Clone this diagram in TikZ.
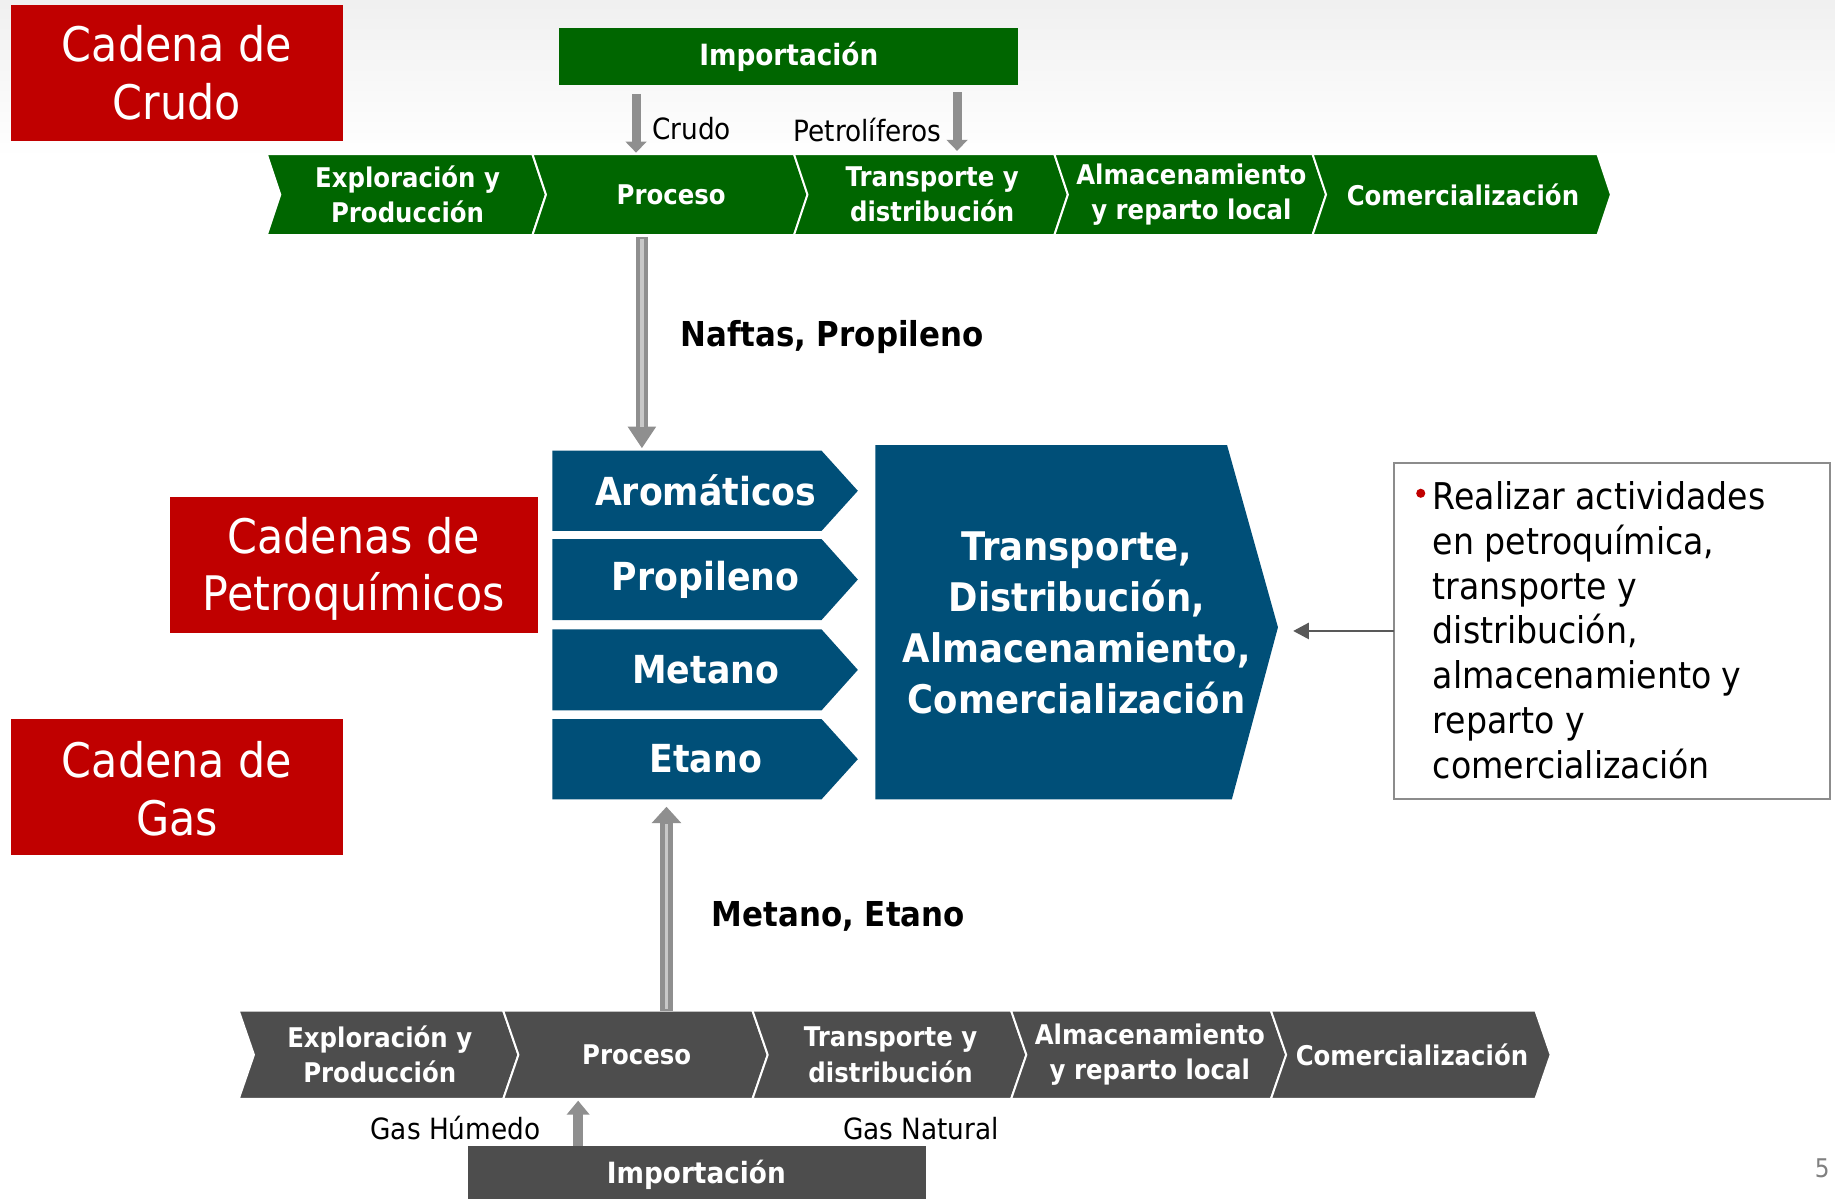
\documentclass[tikz,border=0pt]{standalone}
\usepackage{fontspec}
\setmainfont{DejaVu Sans}[FakeStretch=0.9]
\usetikzlibrary{arrows.meta,fit}
\definecolor{cred}{RGB}{192,0,0}
\definecolor{cgreen}{RGB}{0,102,0}
\definecolor{cblue}{RGB}{0,79,120}
\definecolor{cdgray}{RGB}{77,77,77}
\definecolor{carrow}{RGB}{143,143,143}
\definecolor{cstripe}{RGB}{200,200,200}
\definecolor{cline}{RGB}{89,89,89}
\definecolor{cborder}{RGB}{140,140,140}
\definecolor{cpage}{RGB}{128,128,128}
\newcommand{\fs}[2]{\fontsize{#1}{#2}\selectfont}
\tikzset{
  area/.style={inner sep=0pt, outer sep=0pt},
  redbox/.style={area, fill=cred},
  titletext/.style={text=white, align=center, font=\fs{24.4}{29.6}},
  chevtext/.style={text=white, align=center, font=\fs{13.9}{18}\bfseries, inner sep=0pt},
  imptext/.style={text=white, font=\fs{15}{17}\bfseries, inner sep=0pt},
  flowlabel/.style={font=\fs{15}{17}, inner sep=0pt},
  boldlabel/.style={font=\fs{17.6}{20}\bfseries, inner sep=0pt},
  bluetext/.style={text=white, font=\fs{19.8}{24}\bfseries, inner sep=0pt},
  bigtext/.style={text=white, align=center, font=\fs{20.2}{26.2}\bfseries, inner sep=0pt},
  boxtext/.style={align=left, font=\fs{18.9}{23}, inner sep=0pt},
  smallarrow/.style={draw=carrow, line width=#1},
  stripe/.style={draw=cstripe, line width=1.8pt},
  thinarrow/.style={draw=cline, line width=1.2pt, -{Triangle[width=8.2pt,length=8pt]}},
}
% chevron: name, x1, x2, ytop, ybot, depth, colour, text
\newcommand{\chev}[8]{%
  \fill[#7, draw=white, line width=1pt] (#2,#4) -- (#3,#4) -- ({#3+#6},{(#4+#5)/2}) -- (#3,#5) -- (#2,#5) -- ({#2+#6},{(#4+#5)/2}) -- cycle;
  \node[area, fit={(#2,#4)({#3+#6},#5)}] (#1) {};
  \node[chevtext] (#1-t) at ({(#2+#3+#6)/2+1},{(#4+#5)/2}) {#8};
}
% blue chevron: name, ytop, ybot, text
\newcommand{\bchev}[4]{%
  \fill[cblue] (472,#2) -- (702,#2) -- (733,{(#2+#3)/2}) -- (702,#3) -- (472,#3) -- cycle;
  \node[area, fit={(472,#2)(733,#3)}] (#1) {};
  \node[bluetext] (#1-t) at (603,{(#2+#3)/2}) {#4};
}
\begin{document}
\begin{tikzpicture}[x=0.6pt,y=-0.6pt]
\useasboundingbox (0,0) rectangle (1568,1024.5);
\fill[white] (0,0) rectangle (1568,1024.5);
\shade[top color=black!6, bottom color=white] (0,0) rectangle (1568,135);

% red title boxes
\node[redbox, fit={(9.5,4.3)(293,120.2)}] (rc) {};
\node[titletext] (rct) at (rc.center) {Cadena de\\Crudo};
\node[redbox, fit={(145.4,424.7)(459.4,540.6)}] (rp) {};
\node[titletext] (rpt) at ([yshift=-2pt]rp.center) {Cadenas de\\Petroquímicos};
\node[redbox, fit={(9.5,614.4)(293,730.6)}] (rg) {};
\node[titletext] (rgt) at ([yshift=-0.8pt]rg.center) {Cadena de\\Gas};

% green import box
\node[area, fill=cgreen, fit={(478,24)(870,72.6)}] (impg) {};
\node[imptext] (impgt) at (impg.center) {Importación};

% green chain
\chev{g1}{228}{455}{131.8}{200.8}{11.5}{cgreen}{Exploración y\\Producción}
\chev{g2}{455}{678.5}{131.8}{200.8}{11.5}{cgreen}{Proceso}
\chev{g3}{678.5}{901}{131.8}{200.8}{11.5}{cgreen}{Transporte y\\distribución}
\chev{g4}{901}{1121.6}{131.8}{200.8}{11.5}{cgreen}{Almacenamiento\\y reparto local}
\chev{g5}{1121.6}{1365}{131.8}{200.8}{11.5}{cgreen}{Comercialización}

% import arrows (top)
\coordinate (cx) at (543.5,0);
\coordinate (px) at (817.8,0);
\draw[smallarrow=4.6pt, -{Triangle[width=10.6pt,length=5.7pt]}, shorten <=4.6pt, shorten >=0.8pt] (impg.south -| cx) -- (g2.north -| cx);
\draw[smallarrow=4.6pt, -{Triangle[width=10.6pt,length=5.7pt]}, shorten <=3.8pt, shorten >=1.7pt] (impg.south -| px) -- (g3.north -| px);
\node[flowlabel, anchor=west] (lcrudo) at (557,110) {Crudo};
\node[flowlabel, anchor=east] (lpetro) at (805,111) {Petrolíferos};

% blue chevrons
\bchev{b1}{385.1}{453.7}{Aromáticos}
\bchev{b2}{460.6}{529.8}{Propileno}
\bchev{b3}{537.8}{607}{Metano}
\bchev{b4}{614.4}{683}{Etano}

% Naftas arrow
\coordinate (nx) at (548.5,0);
\draw[smallarrow=6.5pt, -{Triangle[width=13.8pt,length=11.1pt]}, shorten <=1pt, shorten >=1.2pt] (g2.south -| nx) -- (b1.north -| nx);
\draw[stripe] (548.5,204) -- (548.5,365);
\node[boldlabel, anchor=west] (lnaftas) at (581,288) {Naftas, Propileno};

% big blue shape
\fill[cblue] (748,380.3) -- (1048.5,380.3) -- (1092,536) -- (1052.6,683) -- (748,683) -- cycle;
\node[area, fit={(748,380.3)(1092,683)}] (big) {};
\node[bigtext] (bigt) at (920,532.5) {Transporte,\\Distribución,\\Almacenamiento,\\Comercialización};

% text box
\node[area, draw=cborder, line width=1pt, fit={(1190.8,395.3)(1563.7,683)}] (tb) {};
\fill[cred] (1214,421.5) circle (3.9);
\node[boxtext, anchor=north west] (tbt) at (1224,411) {Realizar actividades\\en petroquímica,\\transporte y\\distribución,\\almacenamiento y\\reparto y\\comercialización};
\draw[thinarrow, shorten >=7.8pt] (tb.west) -- (big.east |- tb.west);

% gray chain
\chev{d1}{204}{430}{863.6}{939}{13}{cdgray}{Exploración y\\Producción}
\chev{d2}{430}{643}{863.6}{939}{13}{cdgray}{Proceso}
\chev{d3}{643}{864}{863.6}{939}{13}{cdgray}{Transporte y\\distribución}
\chev{d4}{864}{1086}{863.6}{939}{13}{cdgray}{Almacenamiento\\y reparto local}
\chev{d5}{1086}{1312}{863.6}{939}{13}{cdgray}{Comercialización}

% Metano arrow
\coordinate (mx) at (569.5,0);
\draw[smallarrow=6.8pt, -{Triangle[width=14.7pt,length=8.4pt]}, shorten <=0pt, shorten >=3.8pt] (d2.north -| mx) -- (b4.south -| mx);
\draw[stripe] (569.5,862) -- (569.5,704);
\node[boldlabel, anchor=west] (lmetano) at (608,783) {Metano, Etano};

% gray import box
\node[area, fill=cdgray, fit={(399.7,979)(791,1024.5)}] (impd) {};
\node[imptext] (impdt) at (595,1004) {Importación};
\coordinate (gx) at (494,0);
\draw[smallarrow=5.1pt, -{Triangle[width=11.4pt,length=7.2pt]}, shorten >=0.9pt] (impd.north -| gx) -- (d2.south -| gx);
\node[flowlabel, anchor=east] (lhum) at (462,964) {Gas Húmedo};
\node[flowlabel, anchor=west] (lnat) at (720,964) {Gas Natural};

% page number
\node[font=\fs{13.2}{16}, text=cpage, inner sep=0pt] (page) at (1557,998) {5};
\end{tikzpicture}
\end{document}
